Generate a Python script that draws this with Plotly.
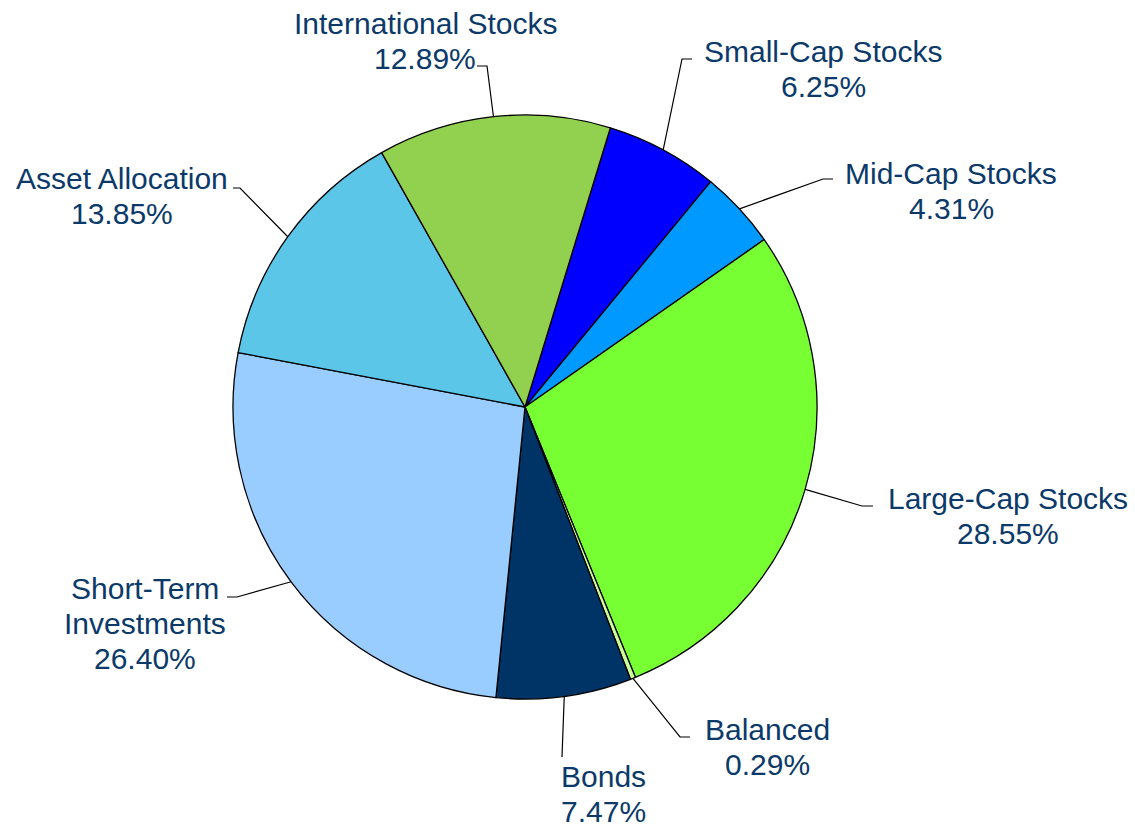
import math
import plotly.graph_objects as go

# ---- data ----
categories = ["Small-Cap Stocks", "Mid-Cap Stocks", "Large-Cap Stocks", "Balanced",
              "Bonds", "Short-Term<br>Investments", "Asset Allocation", "International Stocks"]
values = [6.25, 4.31, 28.55, 0.29, 7.47, 26.40, 13.85, 12.89]

# ---- styles / layout ----
colors = ["#0000FF", "#0099FF", "#77FF33", "#CCFF99", "#003366", "#99CCFF", "#5BC6E8", "#92D050"]
W, H = 1135, 829
CX, CY, R = 525, 407, 292
ROT = 17  # degrees clockwise from 12 o'clock where first slice starts
TXT = "#0B3A6A"
FONT = "Liberation Sans, Arial, sans-serif"
FS = 30
LINE_H = 35

# label layout (pixel positions): text centre x, first-line baseline y, leader bend points
label_x = [823, 951, 1008, 767, 603, 145, 122, 425]
label_base = [61, 183, 508, 739, 786, 598, 188, 33]
leader_bends = [
    [(682, 59), (692, 59)],
    [(823, 179), (833, 179)],
    [(862, 506), (873, 506)],
    [(680, 737), (690, 737)],
    [(562, 757)],
    [(237, 597), (227, 597)],
    [(240, 188), (233, 188)],
    [(487, 66), (477, 66)],
]

fig = go.Figure()
fig.add_trace(go.Pie(
    labels=categories, values=values, sort=False, direction="clockwise",
    rotation=ROT, textinfo="none", hoverinfo="label+percent",
    marker=dict(colors=colors, line=dict(color="#000000", width=1.3)),
    domain=dict(x=[(CX - R) / W, (CX + R) / W], y=[1 - (CY + R) / H, 1 - (CY - R) / H]),
    showlegend=False,
))

total = sum(values)
cum = 0.0
annotations = []
for i, v in enumerate(values):
    mid = math.radians(ROT + 360 * (cum + v / 2) / total)
    cum += v
    ex, ey = CX + R * math.sin(mid), CY - R * math.cos(mid)
    pts = [(ex, ey)] + leader_bends[i]
    fig.add_trace(go.Scatter(
        x=[p[0] for p in pts], y=[p[1] for p in pts], mode="lines",
        line=dict(color="#000000", width=1.2), hoverinfo="skip", showlegend=False,
        xaxis="x", yaxis="y",
    ))
    lines = categories[i].split("<br>") + [f"{v:.2f}%"]
    for k, t in enumerate(lines):
        annotations.append(dict(
            x=label_x[i], y=label_base[i] + k * LINE_H - 10, xref="x", yref="y",
            text=t, showarrow=False, xanchor="center", yanchor="middle",
            font=dict(family=FONT, size=FS, color=TXT), borderpad=0,
        ))

fig.update_layout(
    width=W, height=H, margin=dict(l=0, r=0, t=0, b=0),
    paper_bgcolor="white", plot_bgcolor="rgba(0,0,0,0)",
    xaxis=dict(range=[0, W], visible=False, fixedrange=True, domain=[0, 1]),
    yaxis=dict(range=[H, 0], visible=False, fixedrange=True, domain=[0, 1]),
    annotations=annotations,
)

fig.write_html("out.html", config={"displayModeBar": False},
               post_script="document.body.style.margin='0px';")
